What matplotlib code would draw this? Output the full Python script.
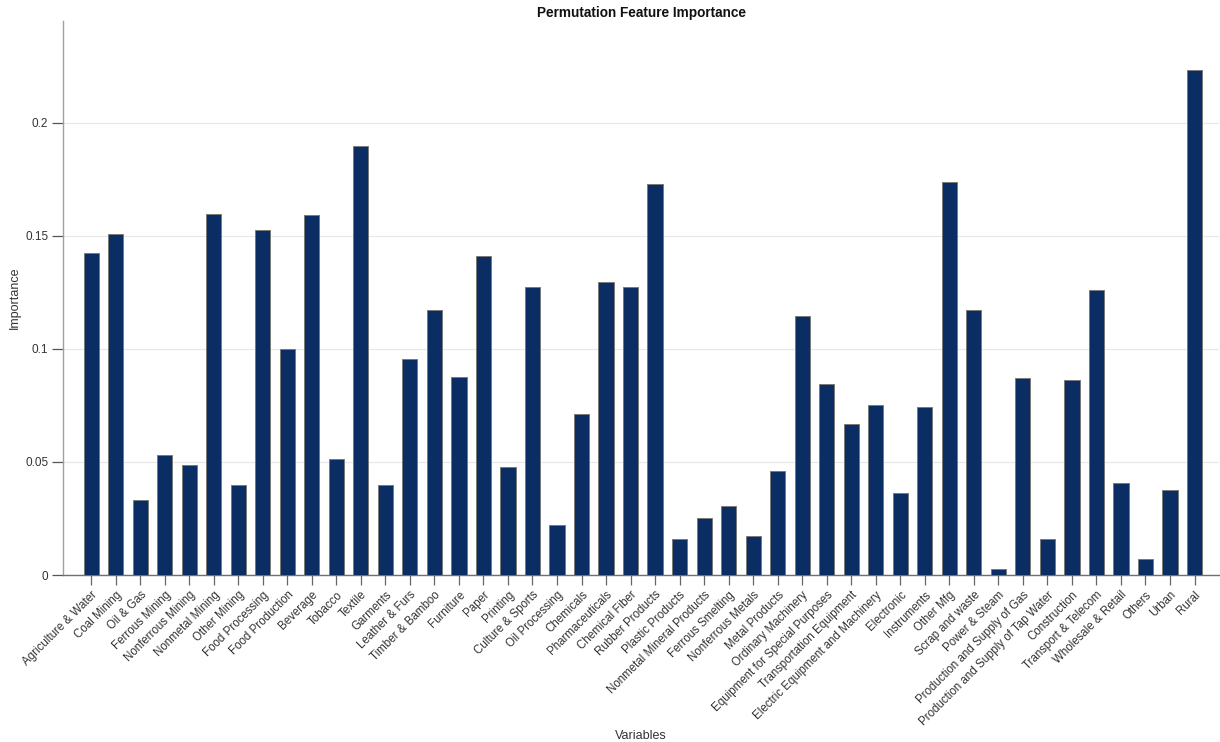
import matplotlib
matplotlib.use("Agg")
import matplotlib.pyplot as plt
import numpy as np

# Feature names and permutation importance values
variables = [
    "Agriculture & Water", "Coal Mining", "Oil & Gas", "Ferrous Mining",
    "Nonferrous Mining", "Nonmetal Mining", "Other Mining", "Food Processing",
    "Food Production", "Beverage", "Tobacco", "Textile", "Garments",
    "Leather & Furs", "Timber & Bamboo", "Furniture", "Paper", "Printing",
    "Culture & Sports", "Oil Processing", "Chemicals", "Pharmaceuticals",
    "Chemical Fiber", "Rubber Products", "Plastic Products",
    "Nonmetal Mineral Products", "Ferrous Smelting", "Nonferrous Metals",
    "Metal Products", "Ordinary Machinery", "Equipment for Special Purposes",
    "Transportation Equipment", "Electric Equipment and Machinery",
    "Electronic", "Instruments", "Other Mfg", "Scrap and waste",
    "Power & Steam", "Production and Supply of Gas",
    "Production and Supply of Tap Water", "Construction",
    "Transport & Telecom", "Wholesale & Retail", "Others", "Urban", "Rural",
]
importance = [
    0.1424, 0.1506, 0.0332, 0.0532, 0.0485, 0.1597, 0.0399, 0.1525,
    0.0997, 0.1590, 0.0511, 0.1897, 0.0399, 0.0953, 0.1173, 0.0876,
    0.1411, 0.0476, 0.1274, 0.0220, 0.0711, 0.1297, 0.1274, 0.1727,
    0.0158, 0.0251, 0.0307, 0.0174, 0.0458, 0.1145, 0.0844, 0.0668,
    0.0752, 0.0362, 0.0743, 0.1738, 0.1172, 0.0025, 0.0873, 0.0161,
    0.0864, 0.1262, 0.0409, 0.0070, 0.0378, 0.2234,
]
y_ticks = [0, 0.05, 0.1, 0.15, 0.2]
y_tick_labels = ["0", "0.05", "0.1", "0.15", "0.2"]

plt.rcParams['font.family'] = ['Liberation Sans', 'DejaVu Sans']

fig = plt.figure(figsize=(12.2, 7.42), dpi=100)
ax = fig.add_axes([0.052, 0.225, 0.947, 0.747])

x = np.arange(len(variables))
ax.bar(x, importance, width=0.62, color='#0a2d64',
       edgecolor='#7a7a7a', linewidth=0.7, zorder=3)

# axes look
ax.set_xlim(-1.13, len(variables) - 0.01)
ax.set_ylim(0, 0.245)
ax.set_yticks(y_ticks)
ax.set_yticklabels(y_tick_labels)
ax.set_xticks(x)
ax.set_xticklabels(variables, rotation=45, ha='right', rotation_mode='anchor')

ax.grid(axis='y', color='#e8e8e8', linewidth=0.9, zorder=0)
ax.spines['top'].set_visible(False)
ax.spines['right'].set_visible(False)
ax.spines['left'].set_color('#a0a0a0')
ax.spines['bottom'].set_color('#707070')
ax.spines['left'].set_linewidth(1.0)
ax.spines['bottom'].set_linewidth(1.0)

ax.tick_params(axis='y', length=8, width=0.9, color='#555555',
               labelcolor='#333333', labelsize=8.5, pad=3)
ax.tick_params(axis='x', length=7, width=0.9, color='#666666',
               labelcolor='#333333', labelsize=8.3, pad=3)

ax.set_ylabel("Importance", fontsize=9, color='#333333')
ax.yaxis.set_label_coords(-0.037, 0.5)
ax.set_xlabel("Variables", fontsize=9, color='#333333', labelpad=2)
ax.set_title("Permutation Feature Importance", fontsize=9.8,
             fontweight='bold', color='#111111', pad=3)

fig.savefig("out.png", dpi=100, facecolor='white')
